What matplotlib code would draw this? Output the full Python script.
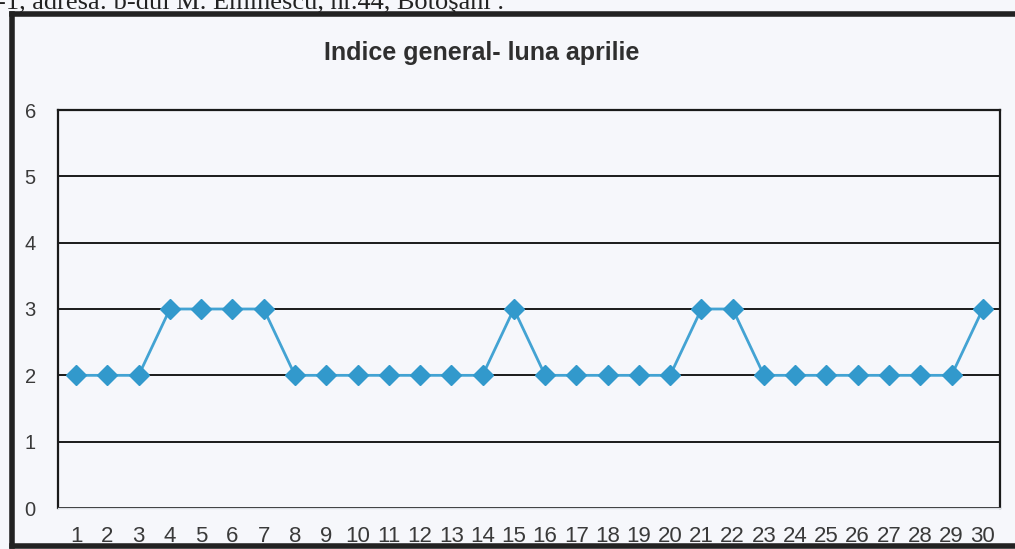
import matplotlib.pyplot as plt
from matplotlib.lines import Line2D

# Daily values for April
days = list(range(1, 31))
values = [2, 2, 2, 3, 3, 3, 3, 2, 2, 2, 2, 2, 2, 2, 3,
          2, 2, 2, 2, 2, 3, 3, 2, 2, 2, 2, 2, 2, 2, 3]
y_ticks = [0, 1, 2, 3, 4, 5, 6]
title = "Indice general- luna aprilie"
header = "-1, adresa: b-dul M. Eminescu, nr.44, Botoşani ."

bg = "#f6f7fb"
fig = plt.figure(figsize=(10.15, 5.49), dpi=100, facecolor=bg)
ax = fig.add_axes([58 / 1015, 1 - 508 / 549, (1000 - 58) / 1015, (508 - 110) / 549])
ax.set_facecolor(bg)

ax.plot(days, values, color="#43a3d3", linewidth=2, marker="D",
        markersize=10.5, markerfacecolor="#3299cc", markeredgecolor="#3299cc", zorder=3)

ax.set_xlim(0.42, 30.55)
ax.set_ylim(0, 6)
ax.set_xticks(days)
ax.set_xticklabels([str(d) for d in days])
ax.set_yticks(y_ticks)
ax.yaxis.grid(True, color="#1a1a1a", linewidth=1.4)
ax.set_axisbelow(True)
ax.tick_params(axis="both", length=0, labelcolor="#3a3a3a",
               labelfontfamily="Liberation Sans")
ax.tick_params(axis="x", labelsize=16, pad=13)
ax.tick_params(axis="y", labelsize=14.5, pad=16)
for side in ["left", "top", "right"]:
    ax.spines[side].set_color("#1a1a1a")
    ax.spines[side].set_linewidth(1.6)
ax.spines["bottom"].set_color("#dcdfe6")
ax.spines["bottom"].set_linewidth(1)

fig.text(482 / 1015, 1 - 53 / 549, title, ha="center", va="center",
         fontsize=18, fontweight="bold", color="#2f2f2f", family="Liberation Sans")

# scanned header line, cut off at the top edge
fig.text(-0.003, 1 - 9 / 549, header, ha="left", va="baseline",
         fontsize=19, color="#222222", family="Liberation Serif")

# outer frame of the embedded chart
frame = dict(color="#222222", linewidth=4, transform=fig.transFigure)
fig.lines.append(Line2D([12 / 1015, 1.01], [1 - 14 / 549, 1 - 14 / 549], **frame))
fig.lines.append(Line2D([12 / 1015, 12 / 1015], [1 - 14 / 549, 1 - 546 / 549], **frame))
fig.lines.append(Line2D([12 / 1015, 1.01], [1 - 546 / 549, 1 - 546 / 549], **frame))

fig.savefig("out.png", dpi=100, facecolor=bg)
